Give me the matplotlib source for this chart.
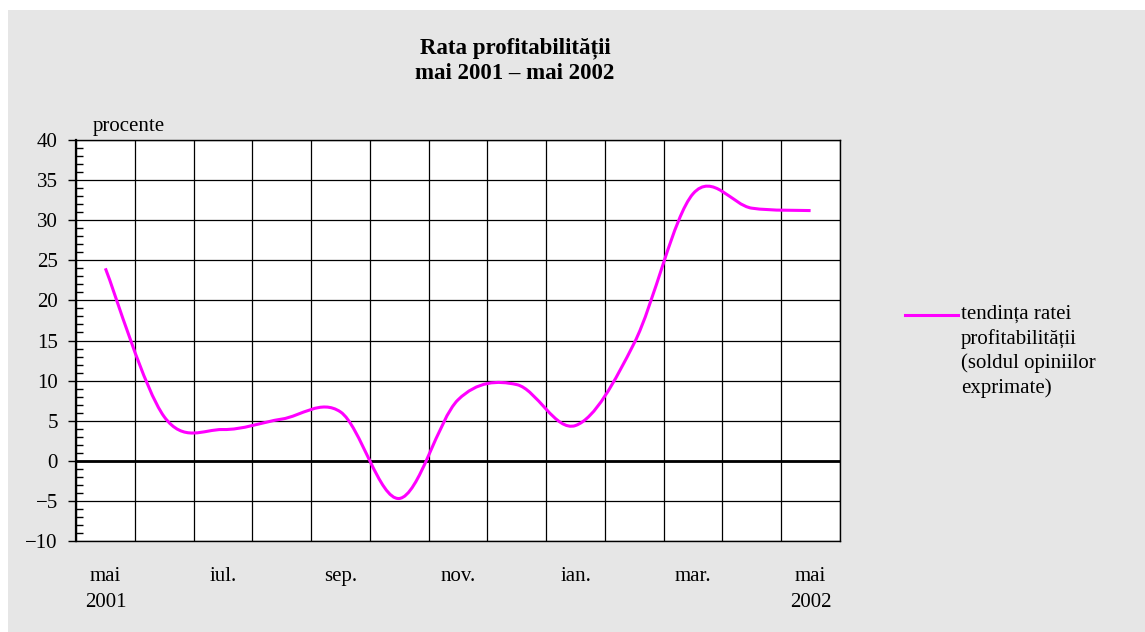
import numpy as np
import matplotlib.pyplot as plt
from matplotlib.path import Path
from matplotlib.patches import PathPatch, Rectangle
from matplotlib.lines import Line2D
from matplotlib.ticker import MultipleLocator, FixedLocator

# == Data ===================================================
months = ['mai 2001', 'iun.', 'iul.', 'aug.', 'sep.', 'oct.', 'nov.',
          'dec.', 'ian.', 'feb.', 'mar.', 'apr.', 'mai 2002']
rata = [24.0, 5.5, 3.9, 5.2, 6.1, -4.7, 7.6, 9.5, 4.4, 14.7, 33.3, 31.5, 31.2]
tick_pos = [0, 2, 4, 6, 8, 10, 12]
tick_labels = ['mai\n2001', 'iul.', 'sep.', 'nov.', 'ian.', 'mar.', 'mai\n2002']
legend_text = 'tendința ratei\nprofitabilității\n(soldul opiniilor\nexprimate)'
title_text = 'Rata profitabilității\nmai 2001 – mai 2002'
# ===========================================================

plt.rcParams['font.family'] = ['Liberation Serif', 'DejaVu Serif']
plt.rcParams['font.size'] = 15

W, H = 1145, 632
fig = plt.figure(figsize=(W / 100, H / 100), dpi=100, facecolor='white')

# dotted grey backdrop
fig.patches.append(Rectangle((8 / W, 0), 1 - 8 / W, 1 - 10 / H,
                             transform=fig.transFigure, facecolor='#e6e6e6',
                             edgecolor='none', zorder=-10))

ax = fig.add_axes([76 / W, 1 - 541 / H, (840 - 76) / W, (541 - 140) / H])
ax.set_facecolor('white')

x = np.arange(len(rata))
y = np.array(rata)

# Excel-like smoothed line: cubic bezier through the points
verts = [(x[0], y[0])]
codes = [Path.MOVETO]
n = len(x)
for i in range(n - 1):
    i0 = max(i - 1, 0)
    i3 = min(i + 2, n - 1)
    c1 = (x[i] + (x[i + 1] - x[i0]) / 6, y[i] + (y[i + 1] - y[i0]) / 6)
    c2 = (x[i + 1] - (x[i3] - x[i]) / 6, y[i + 1] - (y[i3] - y[i]) / 6)
    verts += [c1, c2, (x[i + 1], y[i + 1])]
    codes += [Path.CURVE4] * 3
ax.add_patch(PathPatch(Path(verts, codes), facecolor='none',
                       edgecolor='#ff00ff', lw=2.2, zorder=5,
                       capstyle='butt'))

ax.set_xlim(-0.5, n - 0.5)
ax.set_ylim(-10, 40)

# grid
ax.xaxis.set_minor_locator(FixedLocator(np.arange(-0.5, n, 1.0)))
ax.xaxis.set_major_locator(FixedLocator(tick_pos))
ax.set_xticklabels(tick_labels, linespacing=1.45)
ax.yaxis.set_major_locator(MultipleLocator(5))
ax.yaxis.set_minor_locator(MultipleLocator(1))
ax.grid(which='minor', axis='x', color='black', lw=0.9)
ax.grid(which='major', axis='y', color='black', lw=0.9)
ax.axhline(0, color='black', lw=2.0, zorder=4)

ax.tick_params(axis='x', which='both', length=0, pad=19)
ax.tick_params(axis='y', which='major', direction='out', length=6,
               width=1, pad=7)
ax.tick_params(axis='y', which='minor', direction='in', length=5, width=1)
for s in ax.spines.values():
    s.set_color('black')
    s.set_linewidth(1.0)
ax.spines['left'].set_linewidth(1.6)

ax.text(93 / W, 1 - 127 / H, 'procente', transform=fig.transFigure,
        ha='left', va='center')

fig.text(515 / W, 1 - 61 / H, title_text, ha='center', va='center',
         fontweight='bold', fontsize=16.5, linespacing=1.25)

# legend
fig.add_artist(Line2D([905 / W, 958 / W], [1 - 315 / H, 1 - 315 / H],
                      transform=fig.transFigure, color='#ff00ff', lw=2.2))
fig.text(961 / W, 1 - 305 / H, legend_text, ha='left', va='top',
         linespacing=1.33)

fig.savefig('out.png', dpi=100, facecolor='white')
